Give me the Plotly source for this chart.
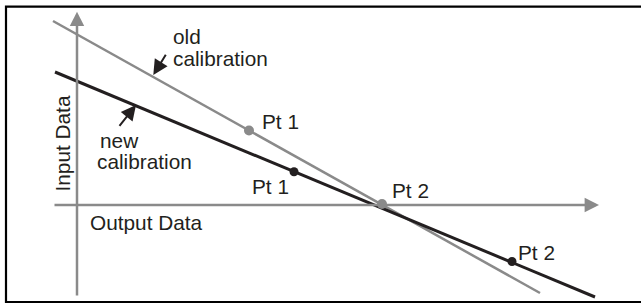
import plotly.graph_objects as go

# ---- data (units: arbitrary, origin at the axes crossing) ----
old_line_x = [-2.4, 46.3]
old_line_y = [18.4, -8.8]
old_pts_x = [17.2, 30.5]
old_pts_y = [7.45, 0.1]

new_line_x = [-2.2, 51.8]
new_line_y = [13.3, -9.2]
new_pts_x = [21.7, 43.5]
new_pts_y = [3.33, -5.65]

pt_labels = ["Pt 1", "Pt 2"]

GRAY = "#8a8a8a"
INK = "#231f20"
FONT = "Liberation Sans, Arial, sans-serif"
FS = 20.8

fig = go.Figure()

fig.add_trace(go.Scatter(x=old_line_x, y=old_line_y, mode="lines",
                         line=dict(color=GRAY, width=2.5), hoverinfo="skip"))
fig.add_trace(go.Scatter(x=new_line_x, y=new_line_y, mode="lines",
                         line=dict(color=INK, width=3), hoverinfo="skip"))
fig.add_trace(go.Scatter(x=old_pts_x, y=old_pts_y, mode="markers",
                         marker=dict(color=GRAY, size=10), hoverinfo="skip"))
fig.add_trace(go.Scatter(x=new_pts_x, y=new_pts_y, mode="markers",
                         marker=dict(color=INK, size=9), hoverinfo="skip"))

anns = []
# axes arrows
anns.append(dict(x=0, y=19.33, ax=0, ay=-9.2, xref="x", yref="y", axref="x", ayref="y",
                 text="", showarrow=True, arrowhead=2, arrowwidth=2.5, arrowsize=1.15,
                 arrowcolor=GRAY, standoff=0))
anns.append(dict(x=52.2, y=0, ax=-2.4, ay=0, xref="x", yref="y", axref="x", ayref="y",
                 text="", showarrow=True, arrowhead=2, arrowwidth=2.5, arrowsize=1.15,
                 arrowcolor=GRAY, standoff=0))
# pointer arrows
anns.append(dict(x=7.63, y=13.0, ax=8.97, ay=15.17, xref="x", yref="y", axref="x", ayref="y",
                 text="", showarrow=True, arrowhead=2, arrowwidth=2, arrowsize=1.5,
                 arrowcolor=INK, standoff=0))
anns.append(dict(x=5.9, y=10.0, ax=4.13, ay=7.77, xref="x", yref="y", axref="x", ayref="y",
                 text="", showarrow=True, arrowhead=2, arrowwidth=2, arrowsize=1.5,
                 arrowcolor=INK, standoff=0))

def label(x, y, t, anchor="left", angle=0):
    anns.append(dict(x=x, y=y, xref="x", yref="y", text=t, showarrow=False,
                     xanchor=anchor, yanchor="middle", textangle=angle,
                     font=dict(family=FONT, size=FS, color=INK)))

label(9.4, 16.9, "old")
label(9.4, 14.7, "calibration")
label(2.1, 6.5, "new")
label(1.8, 4.4, "calibration")
label(-1.5, 6.15, "Input Data", anchor="center", angle=-90)
label(1.1, -1.7, "Output Data")
label(18.3, 8.35, pt_labels[0])
label(17.3, 1.83, pt_labels[0])
label(31.3, 1.42, pt_labels[1])
label(43.9, -4.7, pt_labels[1])

fig.update_layout(
    width=641, height=303,
    margin=dict(l=0, r=0, t=0, b=0),
    paper_bgcolor="white", plot_bgcolor="white",
    showlegend=False,
    xaxis=dict(visible=False, range=[-7.7, 56.4], fixedrange=True),
    yaxis=dict(visible=False, range=[-9.8, 20.5], fixedrange=True),
    annotations=anns,
    shapes=[dict(type="rect", xref="paper", yref="paper",
                 x0=6 / 641, x1=1.05, y0=1 - 302 / 303, y1=1 - 6.7 / 303,
                 line=dict(color="black", width=2.2), layer="above")],
)

fig.write_html("out.html",
               config={"displayModeBar": False, "staticPlot": True},
               post_script="document.body.style.margin='0px';document.body.style.padding='0px';document.body.style.overflow='hidden';")
